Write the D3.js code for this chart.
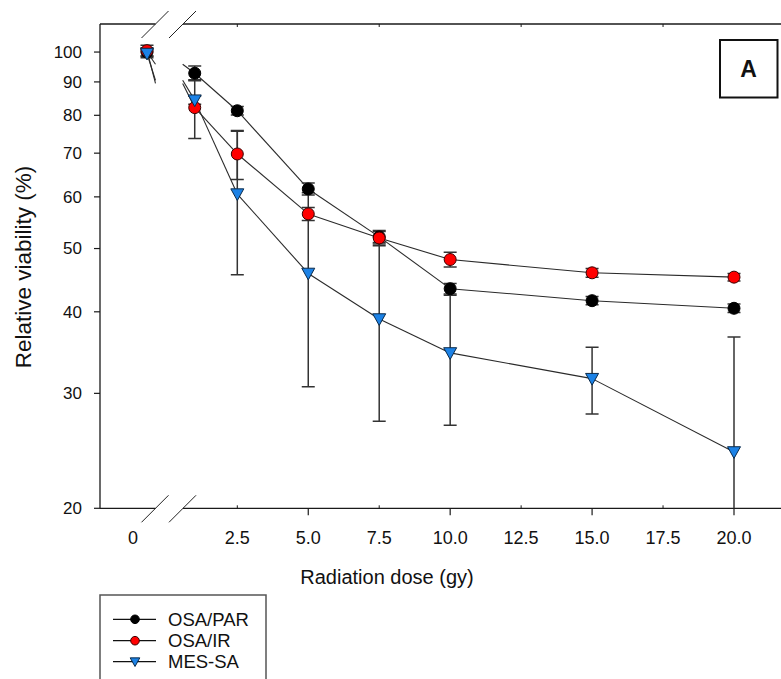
<!DOCTYPE html>
<html>
<head>
<meta charset="utf-8">
<script src="https://cdn.jsdelivr.net/npm/d3@7"></script>
<style>
  html, body { margin: 0; padding: 0; background: #fff; }
  svg { display: block; }
  text { font-family: "Liberation Sans", Arial, sans-serif; fill: #111; }
</style>
</head>
<body>
<svg id="chart" width="781" height="679"></svg>
<script>
// ---- data ----
const doses      = [0, 1, 2.5, 5, 7.5, 10, 15, 20];
const osaPar     = [100, 92.8, 81.3, 61.7, 52.1, 43.4, 41.6, 40.5];
const osaParErr  = [1.5, 2.4, 1.2, 1.3, 1.0, 0.8, 0.6, 0.6];
const osaIr      = [100.5, 82.2, 69.8, 56.5, 51.9, 48.1, 45.9, 45.2];
const osaIrErr   = [1.9, 8.5, 6.0, 1.3, 1.4, 1.25, 0.7, 0.6];
const mesSa      = [99.5, 84.4, 60.6, 45.8, 39.0, 34.6, 31.6, 24.4];
const mesSaErr   = [1.5, 1.2, 15.0, 15.1, 11.8, 7.8, 3.7, 12.2];
const seriesNames = ["OSA/PAR", "OSA/IR", "MES-SA"];
const xTickMajor = [5, 10, 15, 20];
const xTickMinor = [2.5, 7.5, 12.5, 17.5];
const xTickLabels = ["2.5", "5.0", "7.5", "10.0", "12.5", "15.0", "17.5", "20.0"];
const xTickLabelVals = [2.5, 5, 7.5, 10, 12.5, 15, 17.5, 20];
const yTicks = [20, 30, 40, 50, 60, 70, 80, 90, 100];
const breakDose = 0.575;

(function () {
// ---- layout ----
const svg = d3.select("#chart");
const leftX = 100, bottomY = 508.3, topY = 24;
const gapL = 155.5, gapR = 183;

const y = d3.scaleLog().domain([20, 110.4]).range([bottomY, topY]);
const xLeft = d3.scaleLinear().domain([0, breakDose]).range([147, gapL]);
const xRight = d3.scaleLinear().domain([2.5, 20]).range([237.3, 734]);
const xPos = d => d < breakDose ? xLeft(d) : xRight(d);

const series = [
  { name: seriesNames[0], vals: osaPar, err: osaParErr, fill: "#000000", stroke: "#000000", shape: "circle" },
  { name: seriesNames[1], vals: osaIr,  err: osaIrErr,  fill: "#ff0000", stroke: "#3a0000", shape: "circle" },
  { name: seriesNames[2], vals: mesSa,  err: mesSaErr,  fill: "#1c82e6", stroke: "#0a2a4a", shape: "tri" }
];

svg.append("defs").append("clipPath").attr("id", "plotclip")
  .append("rect").attr("x", leftX).attr("y", topY).attr("width", 781 - leftX).attr("height", bottomY - topY);

const axisColor = "#1a1a1a";

// ---- frame / axes ----
[[leftX, gapL], [gapR, 781]].forEach(([a, b]) => {
  svg.append("line").attr("x1", a).attr("x2", b).attr("y1", bottomY).attr("y2", bottomY)
    .attr("stroke", axisColor).attr("stroke-width", 1.3);
  svg.append("line").attr("x1", a).attr("x2", b).attr("y1", topY).attr("y2", topY)
    .attr("stroke", axisColor).attr("stroke-width", 1.3);
});
svg.append("line").attr("x1", leftX).attr("x2", leftX).attr("y1", topY).attr("y2", bottomY)
  .attr("stroke", axisColor).attr("stroke-width", 1.3);

// break slashes
[bottomY, topY].forEach(yy => {
  [gapL, gapR].forEach(xx => {
    svg.append("line").attr("x1", xx - 14).attr("y1", yy + 14).attr("x2", xx + 13).attr("y2", yy - 13)
      .attr("stroke", "#222").attr("stroke-width", 1);
  });
});

// x ticks
xTickMajor.forEach(v => {
  svg.append("line").attr("x1", xRight(v)).attr("x2", xRight(v)).attr("y1", bottomY).attr("y2", bottomY + 7)
    .attr("stroke", axisColor).attr("stroke-width", 1.2);
});
xTickMinor.forEach(v => {
  svg.append("line").attr("x1", xRight(v)).attr("x2", xRight(v)).attr("y1", bottomY).attr("y2", bottomY - 3)
    .attr("stroke", axisColor).attr("stroke-width", 1);
  svg.append("line").attr("x1", xRight(v)).attr("x2", xRight(v)).attr("y1", topY).attr("y2", topY + 3)
    .attr("stroke", axisColor).attr("stroke-width", 1);
});
xTickLabelVals.forEach((v, i) => {
  svg.append("text").attr("x", xRight(v)).attr("y", 544).attr("text-anchor", "middle")
    .attr("font-size", 18).text(xTickLabels[i]);
});
svg.append("text").attr("x", xLeft(0)).attr("dx", -14).attr("y", 544).attr("text-anchor", "middle")
  .attr("font-size", 18).text("0");

// y ticks
yTicks.forEach(v => {
  svg.append("line").attr("x1", leftX - 6).attr("x2", leftX).attr("y1", y(v)).attr("y2", y(v))
    .attr("stroke", axisColor).attr("stroke-width", 1.2);
  svg.append("text").attr("x", 82).attr("y", y(v)).attr("dy", "0.35em").attr("text-anchor", "end")
    .attr("font-size", 17).text(v);
});

// axis titles
svg.append("text").attr("x", 387).attr("y", 584).attr("text-anchor", "middle")
  .attr("font-size", 20).text("Radiation dose (gy)");
svg.append("text").attr("transform", "translate(31,267) rotate(-90)").attr("text-anchor", "middle")
  .attr("font-size", 22.5).text("Relative viability (%)");

// ---- data lines (broken at axis break) ----
const plot = svg.append("g").attr("clip-path", "url(#plotclip)");
series.forEach(s => {
  const segs = [];
  for (let i = 0; i < doses.length - 1; i++) {
    const d0 = doses[i], d1 = doses[i + 1];
    const v0 = s.vals[i], v1 = s.vals[i + 1];
    if (d0 < breakDose && d1 >= breakDose) {
      const t = (breakDose - d0) / (d1 - d0);
      const vb = Math.exp(Math.log(v0) + t * (Math.log(v1) - Math.log(v0)));
      segs.push([[xLeft(d0), y(v0)], [xLeft(breakDose), y(vb)]]);
      segs.push([[xRight(breakDose), y(vb)], [xRight(d1), y(v1)]]);
    } else {
      segs.push([[xPos(d0), y(v0)], [xPos(d1), y(v1)]]);
    }
  }
  segs.forEach(sg => {
    plot.append("path").attr("d", d3.line()(sg)).attr("fill", "none")
      .attr("stroke", "#2a2a2a").attr("stroke-width", 1.1);
  });
});

// ---- error bars ----
series.forEach(s => {
  doses.forEach((d, i) => {
    const cx = xPos(d);
    const hi = y(s.vals[i] + s.err[i]);
    const lo = y(Math.max(s.vals[i] - s.err[i], 1));
    const g = plot.append("g").attr("stroke", "#333").attr("stroke-width", 1.5);
    g.append("line").attr("x1", cx).attr("x2", cx).attr("y1", hi).attr("y2", lo);
    g.append("line").attr("x1", cx - 6.5).attr("x2", cx + 6.5).attr("y1", hi).attr("y2", hi);
    g.append("line").attr("x1", cx - 6.5).attr("x2", cx + 6.5).attr("y1", lo).attr("y2", lo);
  });
});

// ---- markers ----
const triPath = (r) => `M${-r},${-r * 0.8}L${r},${-r * 0.8}L0,${r}Z`;
function drawMarker(g, s, cx, cy, r) {
  if (s.shape === "circle") {
    g.append("circle").attr("cx", cx).attr("cy", cy).attr("r", r)
      .attr("fill", s.fill).attr("stroke", s.stroke).attr("stroke-width", 1);
  } else {
    g.append("path").attr("d", triPath(r + 0.5)).attr("transform", `translate(${cx},${cy})`)
      .attr("fill", s.fill).attr("stroke", s.stroke).attr("stroke-width", 1);
  }
}
series.forEach(s => {
  doses.forEach((d, i) => drawMarker(plot, s, xPos(d), y(s.vals[i]), 6));
});

// ---- legend ----
svg.append("rect").attr("x", 100).attr("y", 595).attr("width", 166).attr("height", 100)
  .attr("fill", "#fff").attr("stroke", "#555").attr("stroke-width", 1.5);
const legY = [619.3, 640.7, 661.7];
series.forEach((s, i) => {
  svg.append("line").attr("x1", 113).attr("x2", 156).attr("y1", legY[i]).attr("y2", legY[i])
    .attr("stroke", "#111").attr("stroke-width", 1.2);
  drawMarker(svg, s, 135, legY[i], 4.3);
  svg.append("text").attr("x", 168).attr("y", legY[i]).attr("dy", "0.36em")
    .attr("font-size", 18.5).text(s.name);
});

// ---- panel label ----
svg.append("rect").attr("x", 720).attr("y", 40).attr("width", 57.5).attr("height", 57.5)
  .attr("fill", "#fff").attr("stroke", "#111").attr("stroke-width", 2);
svg.append("text").attr("x", 748.5).attr("y", 69).attr("dy", "0.36em").attr("text-anchor", "middle")
  .attr("font-size", 23).attr("font-weight", "bold").text("A");
})();
</script>
</body>
</html>
